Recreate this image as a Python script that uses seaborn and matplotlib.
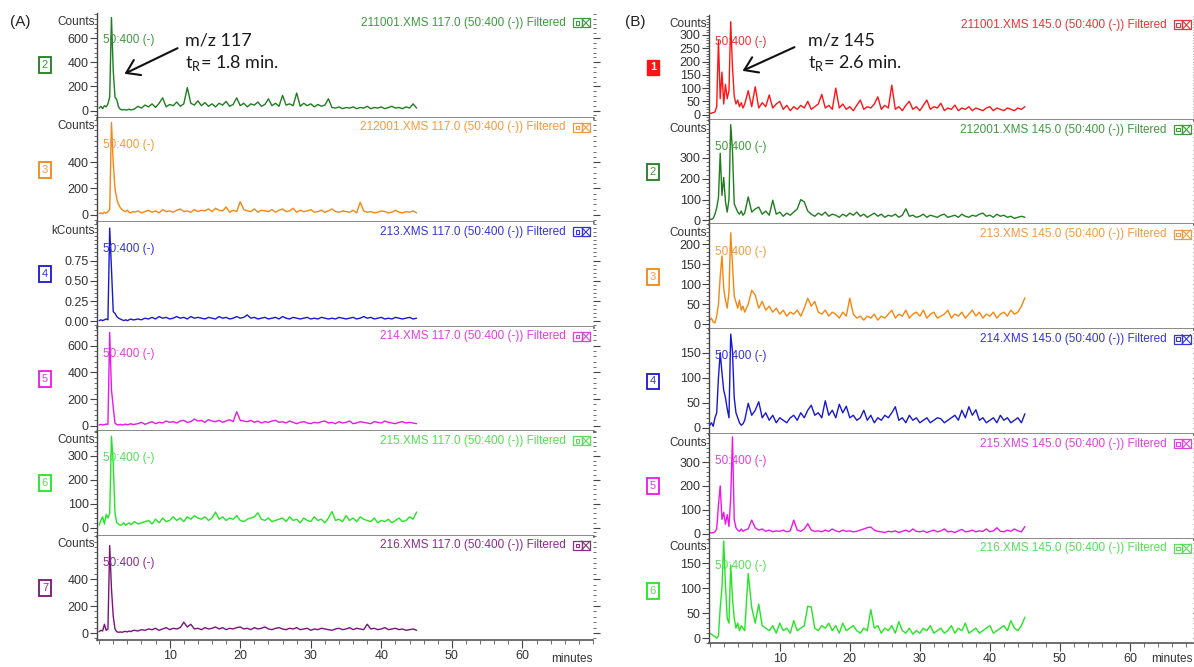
import numpy as np
import matplotlib
matplotlib.use("Agg")
import matplotlib.pyplot as plt
import seaborn as sns
from matplotlib.ticker import FixedLocator, AutoMinorLocator, MultipleLocator, FormatStrFormatter
from matplotlib.patches import Rectangle, FancyArrowPatch
from matplotlib.lines import Line2D

sns.set_theme(style="white")
plt.rcParams["font.family"] = ["Liberation Sans", "DejaVu Sans"]

W, H = 1194, 667

# ---------------- data: early part sampled every 0.25 min (0..5), late part every 0.5 min (5.5..45)
# Panel A, m/z 117
a1_early = [20, 35, 15, 40, 30, 55, 110, 770, 330, 110, 90, 30, 10, 5, 8, 4, 6, 10, 5, 8, 12]
a1_late = [35, 20, 45, 30, 55, 25, 60, 105, 30, 50,
           40, 70, 35, 55, 190, 60, 45, 80, 40, 65,
           35, 55, 30, 60, 45, 75, 35, 50, 105, 40,
           60, 30, 55, 45, 70, 35, 50, 97, 40, 60,
           35, 125, 45, 55, 40, 145, 35, 60, 40, 55,
           30, 50, 35, 45, 97, 25, 20, 30, 15, 25,
           20, 30, 15, 25, 20, 35, 15, 25, 20, 30,
           15, 25, 35, 20, 25, 15, 30, 20, 55, 20]
a2_early = [10, 15, 8, 20, 12, 25, 40, 700, 400, 200, 120, 80, 55, 40, 30, 25, 35, 20, 15, 25, 20]
a2_late = [30, 15, 25, 35, 20, 30, 15, 40, 25, 30,
           20, 35, 45, 25, 30, 20, 40, 25, 35, 30,
           45, 25, 50, 35, 30, 60, 20, 35, 25, 100,
           40, 30, 25, 45, 20, 35, 30, 25, 40, 20,
           35, 45, 25, 30, 50, 20, 35, 25, 30, 40,
           20, 25, 35, 20, 30, 45, 25, 20, 30, 25,
           20, 35, 15, 95, 30, 20, 25, 15, 20, 30,
           25, 15, 20, 35, 20, 15, 25, 20, 30, 15]
a3_early = [0.01, 0.02, 0.01, 0.02, 0.03, 0.02, 1.15, 0.65, 0.12, 0.10, 0.06,
            0.04, 0.03, 0.02, 0.01, 0.02, 0.01, 0.02, 0.03, 0.02, 0.02]
a3_late = [0.03, 0.02, 0.04, 0.03, 0.05, 0.03, 0.06, 0.04, 0.05, 0.03,
           0.04, 0.06, 0.04, 0.05, 0.03, 0.06, 0.04, 0.05, 0.04, 0.03,
           0.05, 0.04, 0.03, 0.06, 0.04, 0.05, 0.03, 0.04, 0.06, 0.04,
           0.05, 0.08, 0.04, 0.05, 0.03, 0.04, 0.05, 0.03, 0.04, 0.05,
           0.03, 0.06, 0.04, 0.03, 0.05, 0.04, 0.03, 0.04, 0.05, 0.03,
           0.04, 0.03, 0.05, 0.04, 0.03, 0.04, 0.03, 0.05, 0.04, 0.03,
           0.04, 0.05, 0.03, 0.04, 0.06, 0.04, 0.05, 0.03, 0.04, 0.05,
           0.03, 0.04, 0.03, 0.05, 0.04, 0.03, 0.04, 0.05, 0.03, 0.04]
a4_early = [5, 10, 5, 8, 12, 10, 700, 270, 140, 20, 8, 5, 10, 5, 8, 12, 6, 10, 15, 8, 10]
a4_late = [15, 25, 10, 20, 30, 15, 25, 20, 35, 25,
           30, 20, 35, 40, 25, 30, 50, 35, 40, 25,
           45, 35, 30, 40, 25, 35, 45, 30, 105, 40,
           35, 30, 40, 25, 35, 20, 30, 25, 35, 40,
           25, 30, 20, 35, 25, 15, 25, 30, 20, 15,
           25, 20, 30, 35, 20, 25, 15, 30, 20, 25,
           35, 15, 20, 30, 25, 20, 15, 30, 25, 20,
           35, 25, 20, 15, 25, 30, 20, 25, 20, 15]
a5_early = [10, 30, 45, 15, 55, 40, 60, 382, 270, 60, 20, 15, 10, 12, 20, 10, 15, 20, 12, 18, 25]
a5_late = [15, 20, 25, 30, 15, 35, 20, 40, 25, 30,
           45, 30, 40, 25, 45, 35, 50, 40, 35, 45,
           30, 40, 65, 35, 45, 30, 40, 35, 50, 30,
           25, 35, 40, 45, 62, 35, 30, 40, 25, 30,
           35, 40, 25, 45, 30, 35, 20, 40, 30, 25,
           45, 30, 35, 20, 40, 67, 30, 35, 25, 50,
           30, 40, 25, 45, 35, 30, 25, 40, 20, 30,
           25, 35, 20, 30, 40, 25, 30, 45, 35, 65]
a6_early = [10, 20, 15, 65, 20, 30, 650, 330, 125, 30, 10, 5, 8, 5, 10, 12, 8, 15, 10, 18, 20]
a6_late = [15, 25, 20, 30, 25, 35, 20, 30, 40, 25,
           35, 30, 40, 80, 45, 65, 30, 35, 25, 40,
           30, 35, 45, 30, 40, 25, 35, 30, 40, 45,
           30, 35, 25, 40, 30, 35, 45, 30, 25, 35,
           40, 30, 25, 35, 30, 40, 25, 30, 35, 20,
           30, 25, 35, 30, 25, 20, 30, 35, 25, 30,
           40, 25, 35, 30, 25, 65, 30, 35, 25, 30,
           40, 25, 30, 35, 25, 30, 20, 25, 30, 20]

# Panel B, m/z 145
b1_early = [5, 5, 8, 10, 30, 280, 60, 160, 40, 114, 60, 90, 350, 180, 70, 40, 55, 30, 45, 25, 40]
b1_late = [90, 30, 105, 25, 45, 30, 74, 25, 40, 50,
           20, 35, 15, 30, 20, 35, 25, 50, 20, 30,
           40, 76, 25, 35, 20, 100, 25, 40, 20, 30,
           15, 35, 55, 20, 30, 25, 40, 67, 20, 35,
           25, 111, 20, 30, 15, 35, 50, 20, 30, 15,
           35, 55, 20, 30, 25, 43, 15, 25, 20, 36,
           15, 25, 20, 30, 15, 25, 20, 15, 25, 30,
           15, 25, 20, 15, 25, 20, 15, 25, 20, 30]
b2_early = [5, 5, 10, 30, 60, 110, 322, 120, 206, 90, 40, 100, 459, 338, 80, 60, 40, 30, 45, 25, 35]
b2_late = [113, 40, 55, 64, 30, 45, 25, 97, 30, 40,
           20, 35, 25, 40, 55, 100, 89, 45, 30, 20,
           35, 25, 40, 20, 30, 25, 15, 30, 20, 35,
           25, 40, 20, 30, 15, 25, 35, 20, 30, 15,
           25, 20, 30, 15, 25, 56, 20, 25, 15, 20,
           30, 15, 25, 20, 15, 25, 30, 15, 20, 25,
           15, 30, 20, 15, 25, 20, 30, 35, 20, 25,
           15, 30, 20, 25, 15, 20, 10, 15, 20, 15]
b3_early = [10, 15, 5, 3, 20, 50, 120, 171, 90, 60, 40, 80, 229, 150, 70, 55, 40, 60, 35, 45, 30]
b3_late = [50, 85, 73, 40, 57, 35, 45, 30, 40, 25,
           35, 20, 30, 25, 35, 20, 40, 65, 45, 57,
           30, 25, 35, 20, 30, 25, 15, 30, 20, 65,
           25, 15, 20, 10, 20, 15, 25, 10, 20, 15,
           25, 35, 15, 25, 20, 35, 15, 25, 30, 20,
           35, 15, 25, 30, 15, 20, 25, 35, 15, 25,
           20, 30, 15, 25, 35, 20, 30, 15, 25, 20,
           30, 15, 25, 30, 20, 35, 25, 30, 45, 66]
b4_early = [5, 10, 3, 20, 30, 100, 150, 110, 75, 60, 38, 20, 187, 153, 60, 30, 20, 10, 5, 8, 15]
b4_late = [49, 25, 35, 52, 20, 30, 15, 25, 10, 20,
           15, 10, 20, 25, 15, 30, 20, 35, 45, 25,
           30, 20, 54, 25, 35, 20, 47, 30, 43, 20,
           25, 15, 20, 35, 15, 25, 10, 20, 15, 25,
           20, 30, 42, 15, 20, 10, 25, 15, 20, 10,
           15, 20, 10, 15, 20, 18, 10, 15, 20, 25,
           15, 35, 20, 42, 25, 36, 15, 20, 10, 15,
           20, 10, 25, 15, 20, 10, 15, 20, 10, 28]
b5_early = [5, 3, 5, 8, 20, 120, 200, 60, 90, 40, 80, 30, 150, 405, 60, 25, 15, 10, 20, 10, 15]
b5_late = [20, 57, 25, 15, 20, 10, 15, 8, 12, 10,
           15, 8, 12, 57, 15, 10, 20, 42, 15, 10,
           12, 8, 15, 10, 20, 12, 8, 15, 10, 12,
           8, 10, 15, 20, 25, 28, 15, 10, 8, 5,
           10, 8, 12, 5, 10, 15, 8, 20, 10, 8,
           12, 5, 10, 15, 8, 12, 20, 8, 10, 5,
           12, 18, 8, 10, 15, 8, 12, 10, 20, 8,
           12, 25, 10, 8, 15, 10, 20, 12, 8, 30]
b6_early = [10, 8, 5, 3, 0, 5, 61, 100, 194, 105, 40, 30, 146, 80, 40, 20, 30, 15, 25, 20, 15]
b6_late = [129, 61, 30, 68, 25, 20, 15, 25, 10, 30,
           15, 20, 10, 35, 15, 20, 25, 64, 62, 20,
           15, 25, 20, 30, 15, 25, 10, 30, 15, 20,
           25, 15, 10, 20, 15, 57, 20, 25, 10, 20,
           15, 25, 10, 33, 15, 10, 20, 8, 15, 10,
           20, 15, 25, 10, 15, 20, 10, 15, 25, 10,
           20, 15, 30, 10, 15, 20, 10, 15, 20, 25,
           10, 15, 20, 25, 15, 35, 20, 15, 25, 42]

files_a = ["211001.XMS", "212001.XMS", "213.XMS", "214.XMS", "215.XMS", "216.XMS"]
files_b = ["211001.XMS", "212001.XMS", "213.XMS", "214.XMS", "215.XMS", "216.XMS"]
nums_a = ["2", "3", "4", "5", "6", "7"]
nums_b = ["1", "2", "3", "4", "5", "6"]
ylabels_a = ["Counts", "Counts", "kCounts", "", "Counts", "Counts"]
ylabels_b = ["Counts", "Counts", "Counts", "", "Counts", "Counts"]
yticks_a = [[0, 200, 400, 600], [0, 200, 400], [0, 0.25, 0.5, 0.75], [0, 200, 400, 600],
            [0, 100, 200, 300], [0, 200, 400]]
yticks_b = [[0, 50, 100, 150, 200, 250, 300], [0, 100, 200, 300], [0, 50, 100, 150, 200],
            [0, 50, 100, 150], [0, 100, 200, 300], [0, 50, 100, 150]]
xticks = [10, 20, 30, 40, 50, 60]

# ---------------- styles
GREEN = ("#1f7d1f", "#3f9a3f")
ORANGE = ("#f5870f", "#f59a3c")
BLUE = ("#1818d0", "#3535d8")
MAGENTA = ("#e818e8", "#e040e0")
LGREEN = ("#22e622", "#55e055")
PURPLE = ("#7a147a", "#8c2c8c")
RED = ("#ff1414", "#e83434")
colors_a = [GREEN, ORANGE, BLUE, MAGENTA, LGREEN, PURPLE]
colors_b = [RED, GREEN, ORANGE, BLUE, MAGENTA, LGREEN]
ylims_a = [(-58, 808), (-54, 738), (-0.0625, 1.225), (-40, 745), (-33, 404), (-52, 725)]
ylims_b = [(-19, 375), (-19, 483), (-12.5, 250), (-12, 197), (-20, 418), (-10, 199)]

early_a = [a1_early, a2_early, a3_early, a4_early, a5_early, a6_early]
late_a = [a1_late, a2_late, a3_late, a4_late, a5_late, a6_late]
early_b = [b1_early, b2_early, b3_early, b4_early, b5_early, b6_early]
late_b = [b1_late, b2_late, b3_late, b4_late, b5_late, b6_late]


def series(early, late):
    t1 = 0.25 * np.arange(len(early))
    t2 = 5.5 + 0.5 * np.arange(len(late))
    return np.concatenate([t1, t2]), np.concatenate([early, late])


fig = plt.figure(figsize=(W / 100, H / 100), dpi=100)


def fx(x):
    return x / W


def fy(y):
    return 1 - y / H


def draw_panel(left_px, width_px, top_px, step_px, xlim, early, late, colors, ylims,
               yticks, ylabels, files, mz, nums, box_x, filled_first):
    for i in range(6):
        top = top_px + i * step_px
        ax = fig.add_axes([fx(left_px), fy(top + step_px), width_px / W, step_px / H])
        t, v = series(early[i], late[i])
        sns.lineplot(x=t, y=v, ax=ax, color=colors[i][0], linewidth=1.0,
                     estimator=None, sort=False)
        ax.set_xlim(*xlim)
        ax.set_ylim(*ylims[i])
        ax.set_xlabel("")
        ax.set_ylabel("")
        for s in ["top", "right"]:
            ax.spines[s].set_visible(False)
        ax.spines["left"].set_color("#444444")
        ax.spines["left"].set_linewidth(1.0)
        ax.spines["bottom"].set_color("#666666")
        ax.spines["bottom"].set_linewidth(1.8)
        ax.yaxis.set_major_locator(FixedLocator(yticks[i]))
        ax.yaxis.set_minor_locator(AutoMinorLocator(5))
        if ylabels[i] == "kCounts":
            ax.yaxis.set_major_formatter(FormatStrFormatter("%.2f"))
        ax.tick_params(axis="y", which="major", length=5, width=0.8, color="#444444",
                       labelsize=9, labelcolor="#333333", pad=1, left=True, right=True,
                       direction="out")
        ax.tick_params(axis="y", which="minor", length=2.5, width=0.6, color="#555555",
                       left=True, right=True, direction="out")
        if i == 5:
            ax.xaxis.set_major_locator(FixedLocator(xticks))
            ax.xaxis.set_minor_locator(MultipleLocator(2))
            ax.tick_params(axis="x", which="major", length=6, width=0.8, color="#444444",
                           labelsize=9, labelcolor="#333333", pad=1, bottom=True)
            ax.tick_params(axis="x", which="minor", length=3, width=0.6, color="#555555",
                           bottom=True)
            ax.spines["bottom"].set_linewidth(1.2)
            ax.spines["bottom"].set_color("#555555")
        else:
            ax.set_xticks([])
        ax.grid(False)
        if ylabels[i]:
            ax.text(-0.004, 0.915, ylabels[i], transform=ax.transAxes, ha="right",
                    va="center", fontsize=8.5, color="#333333")
        ax.text(0.012, 0.74, "50:400 (-)", transform=ax.transAxes, ha="left", va="center",
                fontsize=8.5, color=colors[i][1])
        ax.text(0.945, 0.905, f"{files[i]} {mz} (50:400 (-)) Filtered", transform=ax.transAxes,
                ha="right", va="center", fontsize=8.5, color=colors[i][1])
        # small view icons
        w, h = 8.5 / width_px, 9 / step_px
        x0, y0 = 0.96, 0.905 - h / 2
        c = colors[i][1]
        ax.add_patch(Rectangle((x0, y0), w, h, transform=ax.transAxes, fill=False,
                               ec=c, lw=0.9, clip_on=False))
        ax.add_patch(Rectangle((x0 + w * 0.3, y0 + h * 0.3), w * 0.4, h * 0.4,
                               transform=ax.transAxes, fill=False, ec=c, lw=0.8, clip_on=False))
        ax.add_patch(Rectangle((x0 + w, y0), w, h, transform=ax.transAxes, fill=False,
                               ec=c, lw=0.9, clip_on=False))
        ax.add_line(Line2D([x0 + w, x0 + 2 * w], [y0, y0 + h], transform=ax.transAxes,
                           color=c, lw=0.8, clip_on=False))
        ax.add_line(Line2D([x0 + w, x0 + 2 * w], [y0 + h, y0], transform=ax.transAxes,
                           color=c, lw=0.8, clip_on=False))
        # numbered box
        ycen = top + step_px * 0.5
        if filled_first and i == 0:
            fig.text(fx(box_x), fy(ycen), nums[i], ha="center", va="center", fontsize=8,
                     color="white", fontweight="bold",
                     bbox=dict(boxstyle="square,pad=0.25", fc=colors[i][0], ec=colors[i][0], lw=1))
        else:
            fig.text(fx(box_x), fy(ycen), nums[i], ha="center", va="center", fontsize=8,
                     color=colors[i][1],
                     bbox=dict(boxstyle="square,pad=0.25", fc="white", ec=colors[i][0], lw=1.3))
    # axis title at bottom right
    fig.text(fx(left_px + width_px), fy(659), "minutes", ha="right", va="center",
             fontsize=8.5, color="#333333")


draw_panel(97, 496, 13, 104.5, (-0.3, 70.0), early_a, late_a, colors_a, ylims_a, yticks_a,
           ylabels_a, files_a, "117.0", nums_a, 45, False)
draw_panel(709, 484, 15, 104.7, (-0.1, 69.0), early_b, late_b, colors_b, ylims_b, yticks_b,
           ylabels_b, files_b, "145.0", nums_b, 653, True)

# panel letters
fig.text(fx(10), fy(22), "(A)", ha="left", va="center", fontsize=11, color="#222222")
fig.text(fx(625), fy(22), "(B)", ha="left", va="center", fontsize=11, color="#222222")

# annotations
ann_font = ["Lato", "DejaVu Sans"]
for (tx, mz_txt, tr_txt, tail, head) in [
        (185, "m/z 117", "1.8", (180, 47), (122, 75)),
        (808, "m/z 145", "2.6", (797, 46), (740, 72))]:
    fig.text(fx(tx), fy(40), mz_txt, ha="left", va="center", fontsize=13,
             family=ann_font, color="#1a1a1a")
    fig.text(fx(tx), fy(63), r"t$_\mathregular{R}$= " + tr_txt + " min.", ha="left",
             va="center", fontsize=13, family=ann_font, color="#1a1a1a")
    fig.add_artist(FancyArrowPatch(
        (fx(tail[0]), fy(tail[1])), (fx(head[0]), fy(head[1])),
        transform=fig.transFigure, arrowstyle="->,head_length=6,head_width=4",
        color="#111111", lw=1.5, mutation_scale=1.5))

fig.savefig("out.png", dpi=100)
